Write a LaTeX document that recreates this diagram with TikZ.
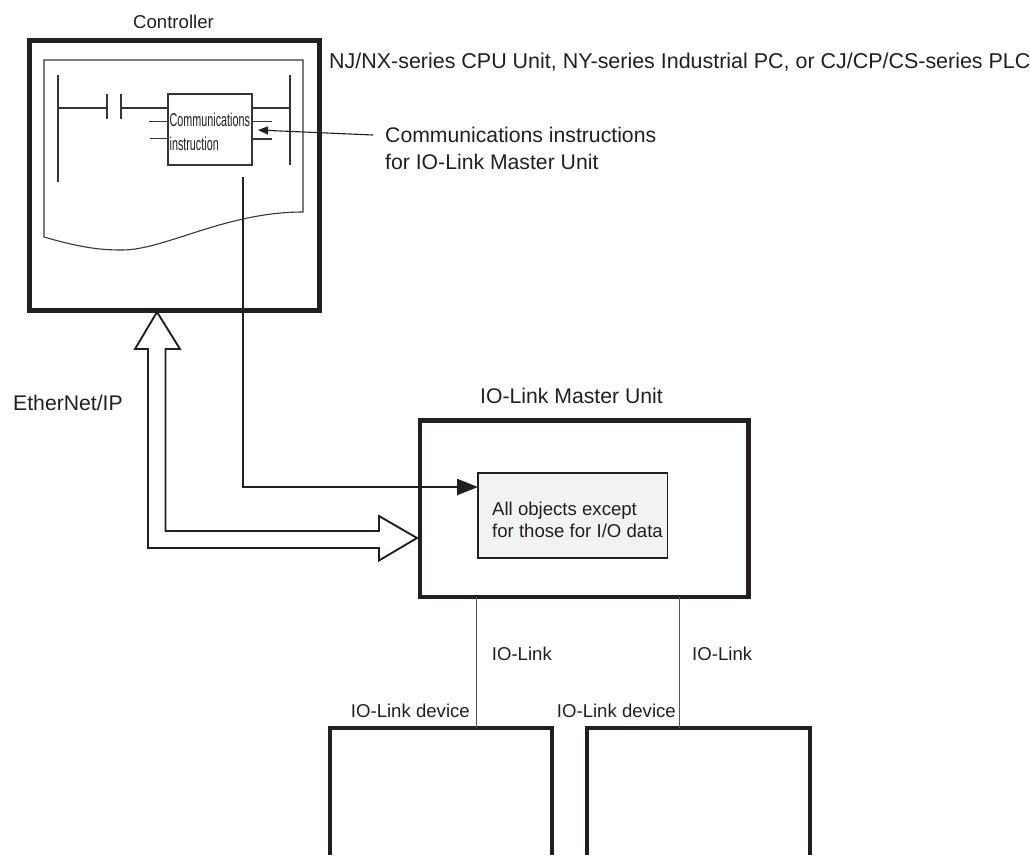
\documentclass[tikz,border=0pt]{standalone}
\usepackage{fontspec}
\setmainfont{Liberation Sans}
\usetikzlibrary{arrows.meta}
\definecolor{ink}{HTML}{231F20}
\definecolor{objfill}{HTML}{F1F2F4}
\tikzset{
  x=1pt,y=-1pt,
  lbl/.style={anchor=base west,inner sep=0pt,text=ink,font=\fontsize{18.6}{20}\selectfont},
  lblbig/.style={lbl,font=\fontsize{21.2}{24}\selectfont},
  lblwide/.style={lbl,font=\fontsize{21.45}{24}\selectfont},
  lblr/.style={lbl,anchor=base east},
  heavybox/.style={draw=ink,line width=4.2pt,inner sep=0pt,anchor=north west,outer sep=0pt},
  areabox/.style={inner sep=0pt,outer sep=0pt,anchor=north west},
  thin line/.style={draw=ink,line width=1.1pt},
  ladder/.style={draw=ink!90,line width=1.1pt},
  link/.style={draw=ink!75,line width=1pt},
  signal/.style={draw=ink,line width=2.5pt},
  hollow/.style={draw=ink,line width=1.9pt,fill=white,line join=miter},
  squeezed/.style={lbl,xscale=.58,transform shape},
}
\begin{document}
\begin{tikzpicture}
\useasboundingbox (0,0) rectangle (1030,855);
% boxes
\node[heavybox,minimum width=290pt,minimum height=270pt] (ctrl) at (29.5,40.5) {};
\node[heavybox,minimum width=328.5pt,minimum height=176.5pt] (master) at (420,420.5) {};
\node[areabox,draw=ink,line width=1.6pt,fill=objfill,minimum width=189.5pt,minimum height=85.5pt] (obj) at (478,472.7) {};
\node[areabox,minimum width=222pt,minimum height=127pt] (dev1) at (330,728) {};
\node[areabox,minimum width=223pt,minimum height=127pt] (dev2) at (587,728) {};
\draw[draw=ink,line width=4.2pt] (dev1.south west) -- (dev1.north west) -- (dev1.north east) -- (dev1.south east);
\draw[draw=ink,line width=4.2pt] (dev2.south west) -- (dev2.north west) -- (dev2.north east) -- (dev2.south east);
% paper sheet
\draw[ladder] (303,212) -- (303,60) -- (44,60) -- (44,237)
  .. controls (85,249) and (105,250) .. (122,250)
  .. controls (165,250) and (225,212) .. (303,212);
% ladder
\node[areabox,draw=ink!90,line width=1.1pt,minimum width=84pt,minimum height=71pt] (instr) at (168,94) {};
\coordinate (railLT) at (58,75); \coordinate (railLB) at (58,182);
\coordinate (railRT) at (290,75); \coordinate (railRB) at (290,165);
\coordinate (wireL) at (58,108); \coordinate (wireR) at (290,108);
\coordinate (c1t) at (107,94); \coordinate (c1b) at (107,119);
\coordinate (c2t) at (121,94); \coordinate (c2b) at (121,119);
\draw[ladder] (railLT) -- (railLB);
\draw[ladder] (railRT) -- (railRB);
\draw[ladder] (c1t) -- (c1b);
\draw[ladder] (c2t) -- (c2b);
\draw[ladder] (wireL) -- (c1t |- wireL);
\draw[ladder] (c2t |- wireL) -- (instr.west |- wireL);
\draw[ladder] (instr.east |- wireL) -- (wireR);
\coordinate (sl1) at (149,121.5); \coordinate (sl2) at (150,138.5);
\coordinate (sr1) at (272,121.5); \coordinate (sr2) at (272,139);
\draw[ladder] (sl1) -- (instr.west |- sl1);
\draw[ladder] (sl2) -- (instr.west |- sl2);
\draw[ladder] (instr.east |- sr1) -- (sr1);
\draw[ladder] (instr.east |- sr2) -- (sr2);
\node[squeezed] (t1) at (169.5,126.7) {Communications};
\node[squeezed] (t2) at (169.5,150.7) {instruction};
% pointer
\coordinate (ptrS) at (373,135);
\coordinate (ptrE) at (258,130);
\draw[thin line,-{Triangle[length=10pt,width=8pt]}] (ptrS) -- (ptrE);
% thick signal
\coordinate (sigS) at (243,177);
\coordinate (sigC) at (243,487);
\draw[signal,line join=miter,-{Triangle[length=21pt,width=16pt]}] (sigS) -- (sigC) -- (obj.west |- sigC);
% hollow double arrow
\draw[hollow] (157,312) -- (180,349) -- (165.5,349) -- (165.5,531) -- (379,531) -- (379,516) -- (417,538) -- (379,560.5) -- (379,548) -- (148,548) -- (148,349) -- (135,349) -- cycle;
% io-link lines
\coordinate (lnk1) at (476,728);
\coordinate (lnk2) at (679,728);
\draw[link] (master.south -| lnk1) -- (lnk1);
\draw[link] (master.south -| lnk2) -- (lnk2);
% labels
\node[lbl] (l1) at (133,28) {Controller};
\node[lblwide] (l2) at (329,68) {NJ/NX-series CPU Unit, NY-series Industrial PC, or CJ/CP/CS-series PLC};
\node[lblbig] (l3) at (385,142.5) {Communications instructions};
\node[lblbig] (l4) at (385,169.5) {for IO-Link Master Unit};
\node[lblbig] (l5) at (13,410) {EtherNet/IP};
\node[lblbig] (l6) at (480,403) {IO-Link Master Unit};
\node[lbl] (l7) at (492,515) {All objects except};
\node[lbl] (l8) at (492,537) {for those for I/O data};
\node[lbl] (l9) at (491.7,660.7) {IO-Link};
\node[lbl] (l10) at (692,660.7) {IO-Link};
\node[lblr] (l11) at (470,717.7) {IO-Link device};
\node[lblr] (l12) at (676,717.7) {IO-Link device};
\end{tikzpicture}
\end{document}
